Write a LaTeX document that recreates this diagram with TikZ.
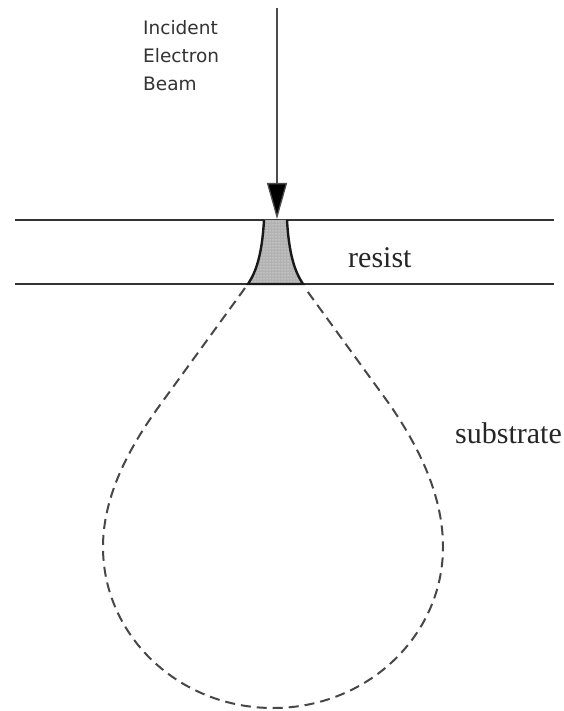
\documentclass[tikz,border=0pt]{standalone}
\usepackage{fontspec}
\setmainfont{Liberation Serif}
\newfontfamily\labelsans{DejaVu Sans}
\usetikzlibrary{arrows.meta,patterns}
\begin{document}
\begin{tikzpicture}[x=1pt,y=-1pt,
  layerline/.style={line width=2pt,draw=black!80},
  beamline/.style={line width=1.3pt,draw=black!70},
  rangeline/.style={line width=2pt,draw=black!72,dash pattern=on 10pt off 6pt},
  beamlabel/.style={font=\labelsans\fontsize{18.5}{20}\selectfont,text=black!80,anchor=base west,inner sep=0pt},
  seriflabel/.style={font=\fontsize{30}{32}\selectfont,text=black!85,anchor=base west,inner sep=0pt}]
\useasboundingbox (0,0) rectangle (563,711);
\fill[white] (0,0) rectangle (563,711);
% layer lines
\coordinate (tl) at (15,220);
\coordinate (tr) at (554,220);
\coordinate (bl) at (15,284);
\coordinate (br) at (554,284);
\draw[layerline] (tl) -- (tr);
\draw[layerline] (bl) -- (br);
% exposed resist region
\fill[gray!60] (264,220) .. controls (262,255) and (256,272) .. (248,284) -- (303,284) .. controls (295,272) and (289,255) .. (287,220) -- cycle;
\fill[pattern=dots,pattern color=white] (264,220) .. controls (262,255) and (256,272) .. (248,284) -- (303,284) .. controls (295,272) and (289,255) .. (287,220) -- cycle;
\draw[line width=2.4pt,black!90] (264,220) .. controls (262,255) and (256,272) .. (248,284) -- (303,284) .. controls (295,272) and (289,255) .. (287,220);
% beam
\coordinate (beamtop) at (277,8);
\coordinate (beamtip) at (277,219);
\draw[beamline,-{Triangle[length=36pt,width=20pt,fill=black]}] (beamtop) -- (beamtip);
% interaction volume
\draw[rangeline] (245,288) -- (160,405) .. controls (125,453) and (103,500) .. (103,547)
  .. controls (103,636) and (179,708) .. (273,708)
  .. controls (367,708) and (443,636) .. (443,547)
  .. controls (443,500) and (423,453) .. (390,405) -- (305,288);
% labels
\node[beamlabel] (inc) at (143,35) {Incident};
\node[beamlabel] (ele) at (143,63) {Electron};
\node[beamlabel] (bea) at (143,91) {Beam};
\node[seriflabel] (res) at (348,267) {resist};
\node[seriflabel] (sub) at (455,443) {substrate};
\end{tikzpicture}
\end{document}
